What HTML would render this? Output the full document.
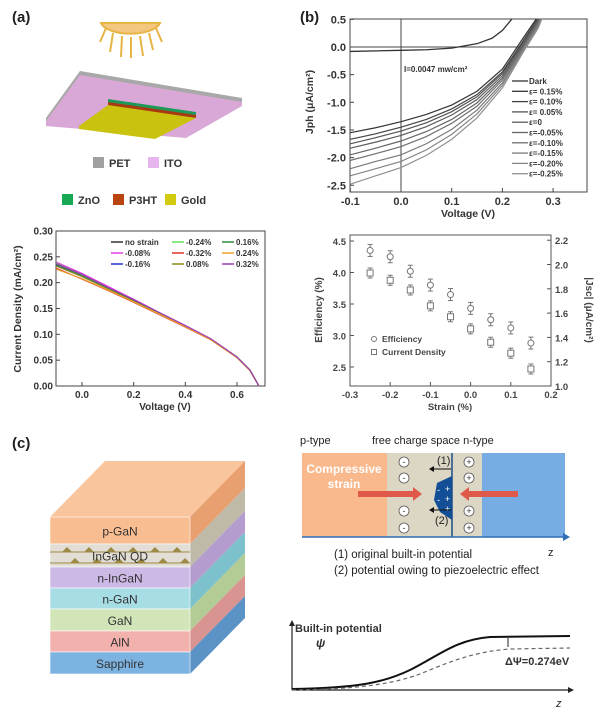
<!DOCTYPE html>
<html><head><meta charset="utf-8"><style>
html,body{margin:0;padding:0;background:#fff;}
svg{display:block;font-family:"Liberation Sans",Arial,sans-serif;}
.b{font-weight:bold;}
</style></head><body>
<svg id="fig" width="600" height="713" viewBox="0 0 600 713">
<g>
<text x="12" y="22" font-size="15" class="b" fill="#222">(a)</text>
<g stroke="#e7b445" stroke-width="2" fill="none">
<path d="M101,23 L160,23 A30,13 0 0 1 101,23 Z" fill="#f3c77f"/>
<line x1="106" y1="28" x2="100" y2="42"/><line x1="113" y1="33" x2="110" y2="52"/><line x1="122" y1="36" x2="121" y2="57"/><line x1="131" y1="37" x2="131" y2="58"/><line x1="140" y1="36" x2="143" y2="56"/><line x1="149" y1="33" x2="153" y2="50"/><line x1="156" y1="28" x2="162" y2="42"/>
</g>
<g>
<polygon points="80,71 242,98 242,104 186,135 46,121 46,118" fill="#a8a8a8"/>
<polygon points="80,75 242,102 242,106 186,138 46,126 46,121" fill="#d9a8d6"/>
<polygon points="108,99 196,112 196,116 108,103" fill="#1d9a5a"/>
<polygon points="108,102 196,115 196,118 108,106" fill="#a83a12"/>
<polygon points="108,105 196,118 155,139 79,129 79,126" fill="#c9c20e"/>
</g>
<g font-size="11" class="b" fill="#333">
<rect x="93" y="157" width="11" height="11" fill="#a0a0a0"/><text x="109" y="167" class="b">PET</text>
<rect x="148" y="157" width="11" height="11" fill="#e7b5ee"/><text x="164" y="167" class="b">ITO</text>
<rect x="62" y="194" width="11" height="11" fill="#17a854"/><text x="78" y="204" class="b">ZnO</text>
<rect x="113" y="194" width="11" height="11" fill="#b8440f"/><text x="129" y="204" class="b">P3HT</text>
<rect x="165" y="194" width="11" height="11" fill="#d2cb10"/><text x="181" y="204" class="b">Gold</text>
</g>
</g>
<g id="chartA"></g>
<text x="300" y="22" font-size="15" class="b" fill="#222">(b)</text>
<g id="chartB"></g>
<g id="chartC"></g>
<text x="12" y="448" font-size="15" class="b" fill="#222">(c)</text>
<g id="stack"></g>
<g>
<text x="300" y="444" font-size="11" fill="#222">p-type</text>
<text x="372" y="444" font-size="11" fill="#222">free charge space n-type</text>
<rect x="302" y="453" width="85" height="84" fill="#f9b98d"/>
<rect x="387" y="453" width="95" height="84" fill="#dcd6c4"/>
<rect x="482" y="453" width="83" height="84" fill="#78ade3"/>
<text x="344" y="473" font-size="12" class="b" fill="#fff" text-anchor="middle">Compressive</text>
<text x="344" y="488" font-size="12" class="b" fill="#fff" text-anchor="middle">strain</text>
<polygon points="358,491 413,491 413,487 422,494 413,501 413,497 358,497" fill="#e05a4c"/>
<polygon points="518,491 469,491 469,487 460,494 469,501 469,497 518,497" fill="#e05a4c"/>
<polygon points="437,483 452,476 452,520 440,512 434,500" fill="#124f96"/>
<g font-size="9" fill="#fff"><text x="437" y="493">-</text><text x="445" y="492">+</text><text x="437" y="503">-</text><text x="445" y="502">+</text><text x="437" y="513">-</text><text x="445" y="512">+</text></g>
<line x1="452" y1="453" x2="452" y2="537" stroke="#1a4f8a" stroke-width="1.5"/>
<g fill="#fff" stroke="#555" stroke-width="0.8">
<circle cx="404" cy="462" r="5"/><circle cx="404" cy="478" r="5"/><circle cx="404" cy="511" r="5"/><circle cx="404" cy="528" r="5"/>
<circle cx="469" cy="462" r="5"/><circle cx="469" cy="478" r="5"/><circle cx="469" cy="511" r="5"/><circle cx="469" cy="528" r="5"/>
</g>
<g font-size="9" fill="#333" text-anchor="middle"><text x="404" y="465">-</text><text x="404" y="481">-</text><text x="404" y="514">-</text><text x="404" y="531">-</text><text x="469" y="465">+</text><text x="469" y="481">+</text><text x="469" y="514">+</text><text x="469" y="531">+</text></g>
<line x1="451" y1="469" x2="432" y2="469" stroke="#111" stroke-width="1"/><polygon points="429,469 434,466 434,472" fill="#111"/>
<line x1="451" y1="510" x2="432" y2="510" stroke="#111" stroke-width="1"/><polygon points="429,510 434,507 434,513" fill="#111"/>
<text x="437" y="464" font-size="11" fill="#222">(1)</text><text x="435" y="524" font-size="11" fill="#222">(2)</text>
<line x1="302" y1="537" x2="566" y2="537" stroke="#2c6fb7" stroke-width="1.5"/><polygon points="570,537 563,533 563,541" fill="#2c6fb7"/>
<text x="548" y="556" font-size="11" fill="#222">z</text>
<text x="334" y="558" font-size="11.5" fill="#222">(1) original built-in potential</text>
<text x="334" y="574" font-size="11.5" fill="#222">(2) potential owing to piezoelectric effect</text>
</g>
<g>
<line x1="292" y1="690" x2="292" y2="623" stroke="#222" stroke-width="1.2"/><polygon points="292,620 289,626 295,626" fill="#222"/>
<line x1="292" y1="690" x2="570" y2="690" stroke="#222" stroke-width="1.2"/><polygon points="574,690 568,687 568,693" fill="#222"/>
<text x="295" y="632" font-size="11" class="b" fill="#333">Built-in potential</text>
<text x="316" y="647" font-size="12" class="b" fill="#333" font-style="italic">ψ</text>
<path d="M292,689 C360,688 385,682 410,670 C440,655 455,640 490,637 L570,636" fill="none" stroke="#111" stroke-width="2"/>
<path d="M292,690 C365,689 395,683 420,674 C445,664 470,652 510,649 L570,648" fill="none" stroke="#666" stroke-width="1.2" stroke-dasharray="4,3"/>
<line x1="508" y1="638" x2="508" y2="647" stroke="#222"/>
<text x="505" y="665" font-size="11" class="b" fill="#333">ΔΨ=0.274eV</text>
<text x="556" y="707" font-size="11" font-style="italic" fill="#222">z</text>
</g>
</svg>
<script>
const NS='http://www.w3.org/2000/svg';
function mk(parent,tag,attrs,txt){const e=document.createElementNS(NS,tag);for(const k in attrs)e.setAttribute(k,attrs[k]);if(txt!==undefined)e.textContent=txt;parent.appendChild(e);return e;}

const aVolt=[-0.1,0,0.1,0.2,0.3,0.4,0.5,0.6,0.65,0.685];
const aNoStrain=[0.236,0.214,0.19,0.166,0.141,0.116,0.09,0.056,0.031,0];
const aM008=[0.24,0.218,0.193,0.168,0.142,0.117,0.091,0.056,0.031,0];
const aM016=[0.233,0.212,0.189,0.165,0.14,0.116,0.09,0.056,0.031,0];
const aM024=[0.238,0.215,0.19,0.166,0.141,0.116,0.09,0.055,0.03,0];
const aM032=[0.228,0.207,0.185,0.162,0.138,0.114,0.089,0.055,0.03,0];
const aP008=[0.232,0.212,0.188,0.164,0.14,0.115,0.09,0.056,0.031,0];
const aP016=[0.235,0.214,0.19,0.166,0.141,0.116,0.09,0.056,0.031,0];
const aP024=[0.226,0.208,0.186,0.163,0.139,0.115,0.089,0.055,0.03,0];
const aP032=[0.237,0.216,0.191,0.167,0.142,0.117,0.091,0.056,0.031,0];
const aLabels=['no strain','-0.08%','-0.16%','-0.24%','-0.32%','0.08%','0.16%','0.24%','0.32%'];
const aXTicks=[0.0,0.2,0.4,0.6];
const aYTicks=[0.00,0.05,0.10,0.15,0.20,0.25,0.30];

const bVolt=[-0.1,-0.05,0,0.05,0.1,0.15,0.2,0.24,0.27,0.3];
const bE015=[-1.55,-1.46,-1.35,-1.22,-1.05,-0.80,-0.40,0.15,0.55,1.0];
const bE010=[-1.67,-1.57,-1.45,-1.31,-1.12,-0.86,-0.45,0.10,0.52,1.0];
const bE005=[-1.75,-1.64,-1.52,-1.37,-1.17,-0.90,-0.48,0.07,0.50,1.0];
const bE000=[-1.83,-1.72,-1.60,-1.44,-1.23,-0.95,-0.52,0.04,0.47,1.0];
const bEm005=[-1.95,-1.83,-1.70,-1.53,-1.31,-1.01,-0.56,0.01,0.44,1.0];
const bEm010=[-2.05,-1.93,-1.80,-1.62,-1.38,-1.07,-0.60,-0.02,0.42,1.0];
const bEm015=[-2.20,-2.07,-1.95,-1.75,-1.49,-1.14,-0.65,-0.05,0.39,1.0];
const bEm020=[-2.33,-2.20,-2.07,-1.86,-1.58,-1.21,-0.69,-0.08,0.36,1.0];
const bEm025=[-2.48,-2.33,-2.18,-1.96,-1.67,-1.28,-0.74,-0.11,0.33,1.0];
const bDarkV=[-0.1,0,0.05,0.1,0.15,0.18,0.2,0.22];
const bDark=[-0.08,-0.06,-0.05,-0.02,0.06,0.16,0.3,0.52];
const bLabels=['Dark','ε= 0.15%','ε= 0.10%','ε= 0.05%','ε=0','ε=-0.05%','ε=-0.10%','ε=-0.15%','ε=-0.20%','ε=-0.25%'];
const bXTicks=[-0.1,0.0,0.1,0.2,0.3];
const bYTicks=[0.5,0.0,-0.5,-1.0,-1.5,-2.0,-2.5];

const sStrain=[-0.25,-0.2,-0.15,-0.1,-0.05,0,0.05,0.1,0.15];
const sEfficiency=[4.35,4.25,4.02,3.80,3.65,3.43,3.25,3.12,2.88];
const sCurrent=[1.93,1.87,1.79,1.66,1.57,1.47,1.36,1.27,1.14];
const sXTicks=[-0.3,-0.2,-0.1,0.0,0.1,0.2];
const sYLTicks=[2.5,3.0,3.5,4.0,4.5];
const sYRTicks=[1.0,1.2,1.4,1.6,1.8,2.0,2.2];

(function(){
const g=document.getElementById('chartA');
const X=v=>82+v*258.3, Y=j=>386-j*516.7;
mk(g,'rect',{x:56,y:231,width:209,height:155,fill:'none',stroke:'#444','stroke-width':1});
const cols=['#333','#e23ce6','#2633d6','#5fe25a','#e1362c','#8a8b1e','#2f8a3f','#f0a22c','#9b3fb0'];
const series=[aNoStrain,aM008,aM016,aM024,aM032,aP008,aP016,aP024,aP032];
series.forEach((s,i)=>{
 const p=mk(g,'polyline',{points:s.map((j,k)=>X(aVolt[k])+','+Y(j)).join(' '),fill:'none',stroke:cols[i],'stroke-width':1.2});
 
 
});
aXTicks.forEach(t=>{mk(g,'line',{x1:X(t),y1:386,x2:X(t),y2:382,stroke:'#444'});const e=mk(g,'text',{x:X(t),y:398,'font-size':10,'font-weight':'bold','text-anchor':'middle',fill:'#333'},t.toFixed(1));});
aYTicks.forEach(t=>{mk(g,'line',{x1:56,y1:Y(t),x2:60,y2:Y(t),stroke:'#444'});const e=mk(g,'text',{x:53,y:Y(t)+3.5,'font-size':10,'font-weight':'bold','text-anchor':'end',fill:'#333'},t.toFixed(2));});
let e=mk(g,'text',{x:165,y:410,'font-size':10,'font-weight':'bold','text-anchor':'middle',fill:'#333'},'Voltage (V)');
e=mk(g,'text',{x:0,y:0,transform:'translate(21,309) rotate(-90)','font-size':10.5,'font-weight':'bold','text-anchor':'middle',fill:'#333'},'Current Density (mA/cm²)');
const lx=[111,172,222], ly=[242,253,264];
aLabels.forEach((l,i)=>{const c=i<3?0:(i<6?1:2), r=i%3;
 const le=mk(g,'g',{});
 mk(le,'line',{x1:lx[c],y1:ly[r],x2:lx[c]+12,y2:ly[r],stroke:cols[i],'stroke-width':1.5});
 mk(le,'text',{x:lx[c]+14,y:ly[r]+3,'font-size':8,'font-weight':'bold',fill:'#333'},l);});
})();

(function(){
const g=document.getElementById('chartB');
const X=v=>401+v*507, Y=j=>47-j*55.3;
mk(g,'defs',{}).innerHTML='<clipPath id="cb"><rect x="350" y="19" width="237" height="173"/></clipPath>';
mk(g,'rect',{x:350,y:19,width:237,height:173,fill:'none',stroke:'#444'});
mk(g,'line',{x1:350,y1:Y(0),x2:587,y2:Y(0),stroke:'#444'});
mk(g,'line',{x1:X(0),y1:19,x2:X(0),y2:192,stroke:'#444'});
const cg=mk(g,'g',{'clip-path':'url(#cb)'});
const series=[bE015,bE010,bE005,bE000,bEm005,bEm010,bEm015,bEm020,bEm025];
const grays=['#333','#444','#555','#5c5c5c','#666','#707070','#7a7a7a','#858585','#909090'];
let p=mk(cg,'polyline',{points:bDark.map((j,k)=>X(bDarkV[k])+','+Y(j)).join(' '),fill:'none',stroke:'#333','stroke-width':1.3});

series.forEach((s,i)=>{p=mk(cg,'polyline',{points:s.map((j,k)=>X(bVolt[k])+','+Y(j)).join(' '),fill:'none',stroke:grays[i],'stroke-width':1.2});
 });
bXTicks.forEach(t=>{mk(g,'line',{x1:X(t),y1:192,x2:X(t),y2:188,stroke:'#444'});const e=mk(g,'text',{x:X(t),y:205,'font-size':11,'font-weight':'bold','text-anchor':'middle',fill:'#333'},t.toFixed(1));});
bYTicks.forEach(t=>{mk(g,'line',{x1:350,y1:Y(t),x2:354,y2:Y(t),stroke:'#444'});const e=mk(g,'text',{x:346,y:Y(t)+4,'font-size':11,'font-weight':'bold','text-anchor':'end',fill:'#333'},t.toFixed(1));});
let e=mk(g,'text',{x:468,y:217,'font-size':10.5,'font-weight':'bold','text-anchor':'middle',fill:'#333'},'Voltage (V)');
e=mk(g,'text',{x:0,y:0,transform:'translate(313,102) rotate(-90)','font-size':10.5,'font-weight':'bold','text-anchor':'middle',fill:'#333'},'Jph (μA/cm²)');
e=mk(g,'text',{x:404,y:72,'font-size':8,'font-weight':'bold',fill:'#333'},'I=0.0047 mw/cm²');
const lc=['#333'].concat(grays);
bLabels.forEach((l,i)=>{const y=81+i*10.3;const le=mk(g,'g',{});
 mk(le,'line',{x1:512,y1:y,x2:528,y2:y,stroke:lc[i],'stroke-width':1.3});
 mk(le,'text',{x:529,y:y+3,'font-size':8,'font-weight':'bold',fill:'#333'},l);});
})();

(function(){
const g=document.getElementById('chartC');
const X=s=>350+(s+0.3)*402, YL=v=>367-(v-2.5)*63, YR=v=>386-(v-1.0)*121.5;
mk(g,'rect',{x:350,y:235,width:201,height:151,fill:'none',stroke:'#555'});
sXTicks.forEach(t=>{mk(g,'line',{x1:X(t),y1:386,x2:X(t),y2:382,stroke:'#555'});const e=mk(g,'text',{x:X(t),y:398,'font-size':9.5,'font-weight':'bold','text-anchor':'middle',fill:'#444'},t.toFixed(1));});
sYLTicks.forEach(t=>{mk(g,'line',{x1:350,y1:YL(t),x2:354,y2:YL(t),stroke:'#555'});const e=mk(g,'text',{x:346,y:YL(t)+4,'font-size':9.5,'font-weight':'bold','text-anchor':'end',fill:'#444'},t.toFixed(1));});
sYRTicks.forEach(t=>{mk(g,'line',{x1:551,y1:YR(t),x2:547,y2:YR(t),stroke:'#555'});const e=mk(g,'text',{x:555,y:YR(t)+4,'font-size':9.5,'font-weight':'bold',fill:'#444'},t.toFixed(1));});
sStrain.forEach((s,i)=>{
 let y=YL(sEfficiency[i]);
 const m1=mk(g,'g',{stroke:'#777',fill:'none','stroke-width':1});
 mk(m1,'line',{x1:X(s),y1:y-6,x2:X(s),y2:y+6});mk(m1,'line',{x1:X(s)-2.5,y1:y-6,x2:X(s)+2.5,y2:y-6});mk(m1,'line',{x1:X(s)-2.5,y1:y+6,x2:X(s)+2.5,y2:y+6});
 mk(m1,'circle',{cx:X(s),cy:y,r:3,fill:'#fff'});
 y=YR(sCurrent[i]);
 const m2=mk(g,'g',{stroke:'#777',fill:'none','stroke-width':1});
 mk(m2,'line',{x1:X(s),y1:y-5,x2:X(s),y2:y+5});mk(m2,'line',{x1:X(s)-2.5,y1:y-5,x2:X(s)+2.5,y2:y-5});mk(m2,'line',{x1:X(s)-2.5,y1:y+5,x2:X(s)+2.5,y2:y+5});
 mk(m2,'rect',{x:X(s)-3,y:y-3,width:6,height:6,fill:'#fff'});
});
const l1=mk(g,'g',{});
mk(l1,'circle',{cx:374,cy:339,r:2.5,fill:'none',stroke:'#777'});mk(l1,'text',{x:382,y:342,'font-size':8.5,'font-weight':'bold',fill:'#444'},'Efficiency');
const l2=mk(g,'g',{});
mk(l2,'rect',{x:371.5,y:349.5,width:5,height:5,fill:'none',stroke:'#777'});mk(l2,'text',{x:382,y:355,'font-size':8.5,'font-weight':'bold',fill:'#444'},'Current Density');
let e=mk(g,'text',{x:450,y:410,'font-size':9.5,'font-weight':'bold','text-anchor':'middle',fill:'#444'},'Strain (%)');
e=mk(g,'text',{x:0,y:0,transform:'translate(322,310) rotate(-90)','font-size':10,'font-weight':'bold','text-anchor':'middle',fill:'#444'},'Efficiency (%)');
e=mk(g,'text',{x:0,y:0,transform:'translate(586,310) rotate(90)','font-size':10,'font-weight':'bold','text-anchor':'middle',fill:'#444'},'|Jsc| (μA/cm²)');
})();

(function(){
const g=document.getElementById('stack');
const names=['p-GaN','InGaN QD','n-InGaN','n-GaN','GaN','AlN','Sapphire'];
const tops=[517,544,567,588,609,631,652];
const bots=[544,567,588,609,631,652,674];
const front=['#f8bd90','#e2ded6','#cdb9e6','#a7dde4','#d2e5b8','#f2b1ad','#7db3e1'];
const side=['#e9a071','#bfb9a8','#b49ccf','#7cc1cb','#b3cb95','#d99390','#5b93c7'];
const dx=55, dy=-56;
mk(g,'polygon',{points:`50,517 190,517 ${190+dx},${517+dy} ${50+dx},${517+dy}`,fill:'#f9c59d'});
names.forEach((n,i)=>{
 const t=tops[i], b=bots[i];
 const L=mk(g,'g',{});
 mk(L,'polygon',{points:`190,${t} ${190+dx},${t+dy} ${190+dx},${b+dy} 190,${b}`,fill:side[i]});
 mk(L,'rect',{x:50,y:t,width:140,height:b-t,fill:front[i],stroke:'#fff','stroke-width':0.6});
 if(i===1){for(let k=0;k<6;k++){const x=62+k*22;mk(L,'polygon',{points:`${x},${t+8} ${x+5},${t+3} ${x+10},${t+8}`,fill:'#9c8a45'});mk(L,'polygon',{points:`${x+8},${t+19} ${x+13},${t+14} ${x+18},${t+19}`,fill:'#9c8a45'});}
  mk(L,'line',{x1:50,y1:t+8,x2:190,y2:t+8,stroke:'#9c8a45','stroke-width':1});mk(L,'line',{x1:50,y1:t+19,x2:190,y2:t+19,stroke:'#9c8a45','stroke-width':1});}
 mk(L,'text',{x:120,y:(t+b)/2+5,'font-size':12,'text-anchor':'middle',fill:'#333'},n);
});
})();
</script>
</body></html>
